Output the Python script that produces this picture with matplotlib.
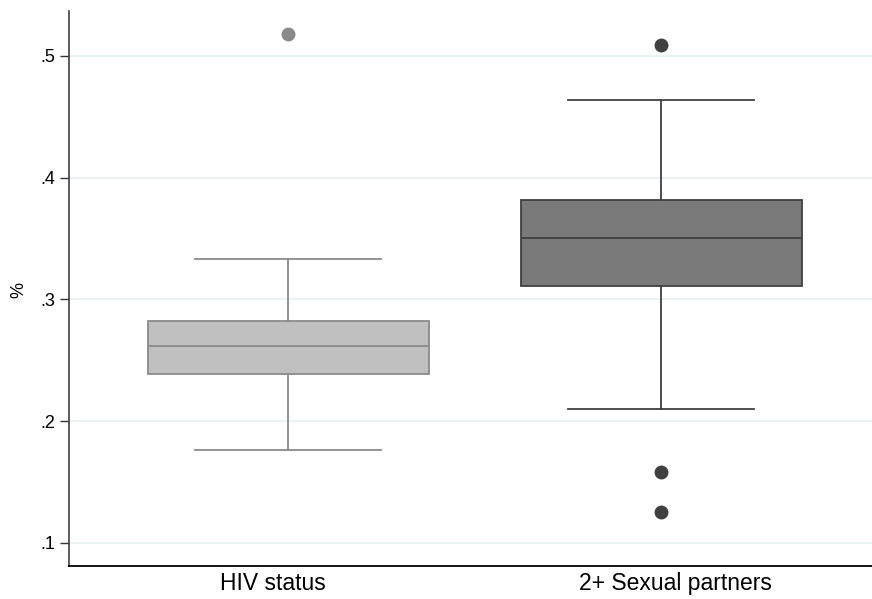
import numpy as np
import matplotlib.pyplot as plt

plt.rcParams['font.family'] = ['Liberation Sans', 'DejaVu Sans']

# box summaries per indicator
groups = ['HIV status', '2+ Sexual partners']
whislo = [0.176, 0.210]
q1 = [0.239, 0.311]
med = [0.262, 0.350]
q3 = [0.282, 0.382]
whishi = [0.333, 0.464]
fliers = [[0.518], [0.509, 0.158, 0.125]]

fills = ['#c0c0c0', '#7a7a7a']
edges = ['#8a8a8a', '#404040']

stats = []
for i, g in enumerate(groups):
    stats.append({'label': g, 'whislo': whislo[i], 'q1': q1[i], 'med': med[i],
                  'q3': q3[i], 'whishi': whishi[i], 'fliers': fliers[i]})

fig = plt.figure(figsize=(8.72, 5.99), dpi=100)
ax = fig.add_axes([69/872, 33/599, 1 - 69/872, (566 - 11)/599])

for i, s in enumerate(stats):
    bp = ax.bxp([s], positions=[i + 1], widths=0.754, patch_artist=True,
                showfliers=True, manage_ticks=False,
                boxprops=dict(facecolor=fills[i], edgecolor=edges[i], linewidth=1.3),
                medianprops=dict(color=edges[i], linewidth=1.3),
                whiskerprops=dict(color=edges[i], linewidth=1.3),
                capprops=dict(color=edges[i], linewidth=1.3),
                capwidths=0.5,
                flierprops=dict(marker='o', markersize=9, markerfacecolor=edges[i],
                                markeredgecolor=edges[i]))
    for k in bp:
        for a in bp[k]:
            a.set_zorder(3)

ax.set_xlim(0.4116, 2.566)
ax.set_ylim(0.0809, 0.5369)
yt = [0.1, 0.2, 0.3, 0.4, 0.5]
ax.set_yticks(yt)
ax.set_yticklabels(['.1', '.2', '.3', '.4', '.5'])
# group labels sit slightly off the box centres
ax.set_xticks([0.958, 2.038])
ax.set_xticklabels(groups, fontsize=16.5)
ax.tick_params(axis='y', labelsize=13, length=6.5, width=1, color='#333333', pad=3.5)
ax.tick_params(axis='x', length=0, pad=4)
ax.yaxis.grid(True, color='#e8f0f2', linewidth=1.2, zorder=0)
ax.set_axisbelow(True)

ax.set_ylabel('%', fontsize=13)
ax.yaxis.set_label_coords(-0.052, 0.498)

for sp in ['top', 'right']:
    ax.spines[sp].set_visible(False)
ax.spines['left'].set_color('#404040')
ax.spines['left'].set_linewidth(1.2)
ax.spines['bottom'].set_color('black')
ax.spines['bottom'].set_linewidth(1.3)

fig.savefig('out.png', dpi=100)
